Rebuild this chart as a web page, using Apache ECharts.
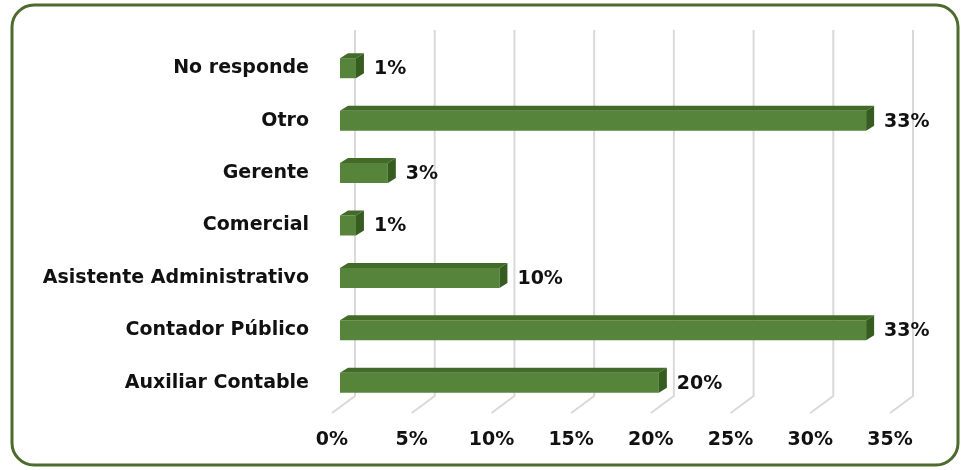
<!DOCTYPE html>
<html>
<head>
<meta charset="utf-8">
<script src="https://cdn.jsdelivr.net/npm/echarts@6/dist/echarts.min.js"></script>
<style>html,body{margin:0;padding:0;background:#fff}#c{width:965px;height:470px}</style>
</head>
<body>
<div id="c"></div>
<script>
const categories = ['Auxiliar Contable', 'Contador Público', 'Asistente Administrativo', 'Comercial', 'Gerente', 'Otro', 'No responde'];
const values = [20, 33, 10, 1, 3, 33, 1];
const tickValues = [0, 5, 10, 15, 20, 25, 30, 35];

const FONT = '"DejaVu Sans", Verdana, sans-serif';
const chart = echarts.init(document.getElementById('c'));

const barData = values.map((v, i) => [v, i]);
const gridData = tickValues.map(v => [v, 0]);

chart.setOption({
  animation: false,
  backgroundColor: '#ffffff',
  graphic: [{
    type: 'rect',
    shape: { x: 12, y: 5, width: 946, height: 460, r: 22 },
    style: { fill: 'none', stroke: '#4e6b2e', lineWidth: 3 },
    z: 100
  }],
  grid: { left: 332, right: 75, top: 42, bottom: 61 },
  xAxis: {
    type: 'value', min: 0, max: 35, interval: 5,
    axisLine: { show: false }, axisTick: { show: false }, splitLine: { show: false },
    axisLabel: { formatter: '{value}%', margin: 22, color: '#111', fontFamily: FONT, fontWeight: 'bold', fontSize: 19 }
  },
  yAxis: {
    type: 'category', data: categories,
    axisLine: { show: false }, axisTick: { show: false },
    axisLabel: { margin: 23, color: '#111', fontFamily: FONT, fontWeight: 'bold', fontSize: 19, padding: [6, 0, 0, 0] }
  },
  series: [
    {
      type: 'custom', z: 1, silent: true,
      data: gridData,
      encode: { x: 0, y: 1 },
      renderItem: function (params, api) {
        const cs = params.coordSys;
        const x = api.coord([api.value(0), 0])[0];
        const floorY = cs.y + cs.height + 4;
        return {
          type: 'polyline',
          shape: { points: [[x, floorY], [x + 23, floorY - 17], [x + 23, 30]] },
          style: { stroke: '#d9d9d9', lineWidth: 2, fill: 'none' }
        };
      }
    },
    {
      type: 'custom', z: 5, silent: true,
      data: barData,
      encode: { x: 0, y: 1 },
      renderItem: function (params, api) {
        const v = api.value(0), cat = api.value(1);
        const p0 = api.coord([0, cat]);
        const p1 = api.coord([v, cat]);
        const x = p0[0] + 8;
        const w = p1[0] - p0[0];
        const h = 20, dx = 8, dy = 5;
        const y = p0[1] - h / 2;
        return {
          type: 'group',
          children: [
            { type: 'rect', shape: { x: x, y: y, width: w, height: h }, style: { fill: '#55843a' } },
            { type: 'polygon', shape: { points: [[x, y], [x + w, y], [x + w + dx, y - dy], [x + dx, y - dy]] }, style: { fill: '#426b2a' } },
            { type: 'polygon', shape: { points: [[x + w, y], [x + w + dx, y - dy], [x + w + dx, y + h - dy], [x + w, y + h]] }, style: { fill: '#375c20' } },
            { type: 'text', style: { x: x + w + dx + 10, y: p0[1] + 1, text: v + '%', fill: '#111', font: 'bold 19px ' + FONT, textAlign: 'left', textVerticalAlign: 'middle' } }
          ]
        };
      }
    }
  ]
});
</script>
</body>
</html>
